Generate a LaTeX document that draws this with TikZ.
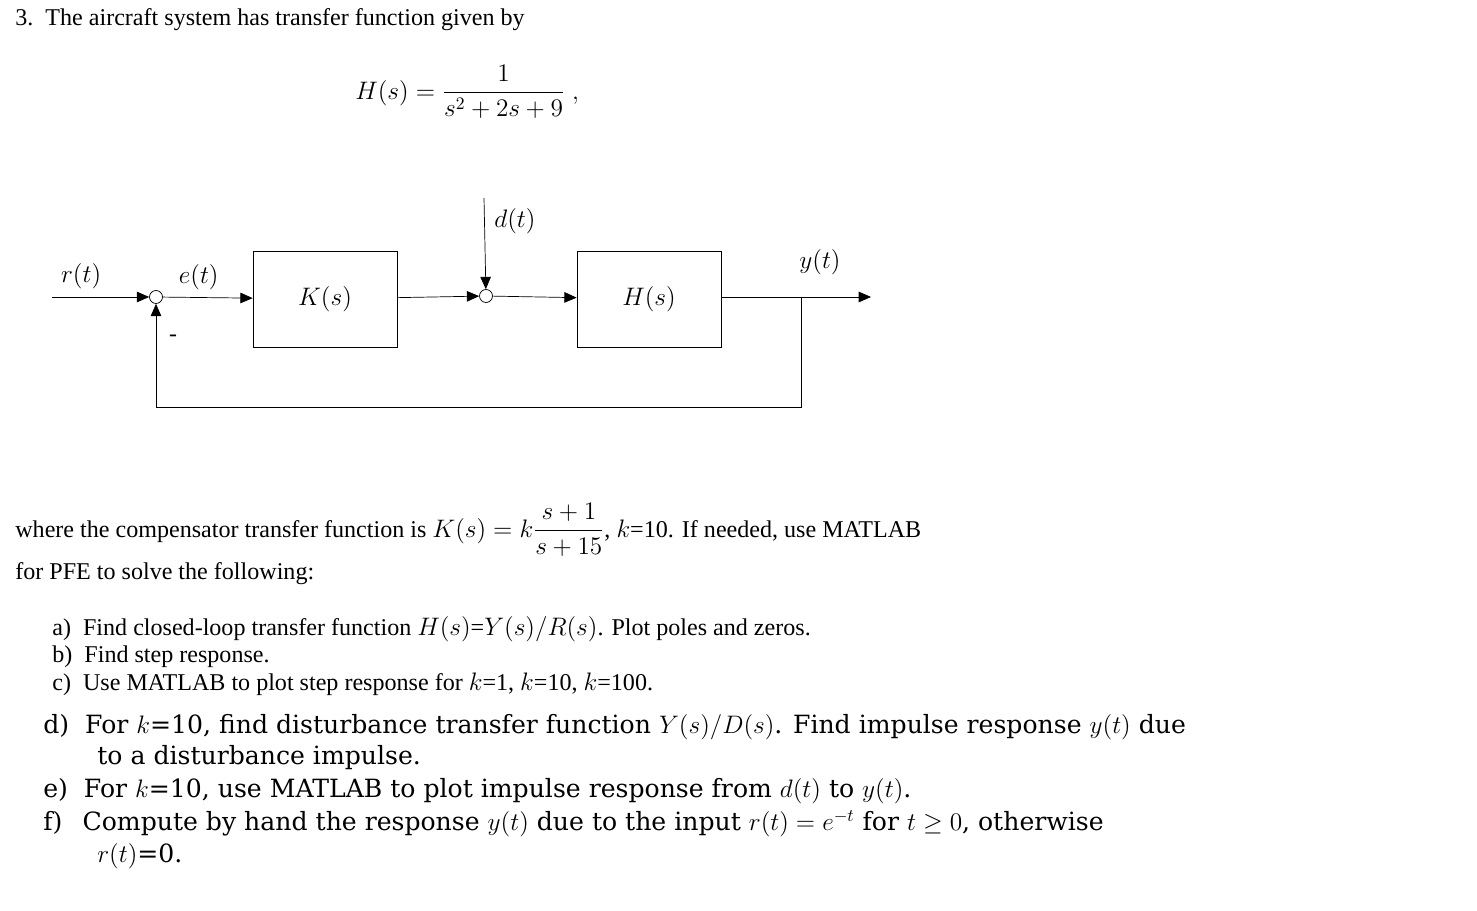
\documentclass[tikz,border=0pt]{standalone}
\usepackage{amsmath}
\usepackage{fontspec}
\setmainfont{Liberation Serif}
\newfontfamily\widefont{DejaVu Serif}
\usetikzlibrary{arrows.meta}
\begin{document}
\begin{tikzpicture}[x=0.02cm, y=-0.02cm,
    font=\fontsize{13.5}{16}\selectfont,
    blk/.style={draw, minimum width=2.88cm, minimum height=1.92cm, inner sep=0pt},
    sum/.style={draw, circle, minimum size=0.26cm, inner sep=0pt},
    sig/.style={-{Triangle[length=7pt,width=6pt]}},
    txt/.style={anchor=west, inner sep=0pt, font=\fontsize{13.7}{16}\selectfont},
    big/.style={anchor=west, inner sep=0pt, font=\widefont\fontsize{14.3}{17}\selectfont}]
  \useasboundingbox (0,0) rectangle (1477,911);
  % heading and plant
  \node[txt] (title) at (15,20) {3.\ \ The aircraft system has transfer function given by};
  \node[txt] (hs) at (355,92) {$H(s)=\dfrac{1}{s^2+2s+9}\;,$};
  % block diagram
  \node[sum] (s1) at (156,297) {};
  \node[blk] (K) at (325,299) {$K(s)$};
  \node[sum] (s2) at (486,296) {};
  \node[blk] (H) at (649,299) {$H(s)$};
  \coordinate (in) at (52,297);
  \coordinate (dist) at (484,198);
  \coordinate (out) at (871,297);
  \coordinate (tap) at (801,297);
  \draw[sig] (in) -- (s1) node[pos=0.3, above=1pt] {$r(t)$};
  \draw[sig] (s1) -- (K) node[pos=0.4, above=1pt] {$e(t)$};
  \draw[sig] (K) -- (s2);
  \draw[sig] (s2) -- (H);
  \draw[sig] (dist) -- (s2);
  \node (dl) at (515,221) {$d(t)$};
  \draw[sig] (H.east |- out) -- (out);
  \node (yl) at (820,262) {$y(t)$};
  \draw[sig] (tap) -- (801,407) -- (156,407) -- (s1);
  \node (minus) at (173,338) {-};
  % text
  \node[txt] (l1) at (15,530) {where the compensator transfer function is $K(s)=k\dfrac{s+1}{s+15}$, $k$=10. If needed, use MATLAB};
  \node[txt] (l2) at (15,574) {for PFE to solve the following:};
  \node[txt] (a) at (52,629) {a)\ \ Find closed-loop transfer function $H(s)$=$Y(s)/R(s)$. Plot poles and zeros.};
  \node[txt] (b) at (52,657) {b)\ \ Find step response.};
  \node[txt] (c) at (52,684) {c)\ \ Use MATLAB to plot step response for $k$=1, $k$=10, $k$=100.};
  \node[big] (d) at (43,727) {d)\ \ For $k$=10, find disturbance transfer function $Y(s)/D(s)$. Find impulse response $y(t)$ due};
  \node[big] (d2) at (97,758) {to a disturbance impulse.};
  \node[big] (e) at (43,791) {e)\ \ For $k$=10, use MATLAB to plot impulse response from $d(t)$ to $y(t)$.};
  \node[big] (f) at (43,824) {f)\ \ \,Compute by hand the response $y(t)$ due to the input $r(t)=e^{-t}$ for $t\geq0$, otherwise};
  \node[big] (f2) at (97,856) {$r(t)$=0.};
\end{tikzpicture}
\end{document}
